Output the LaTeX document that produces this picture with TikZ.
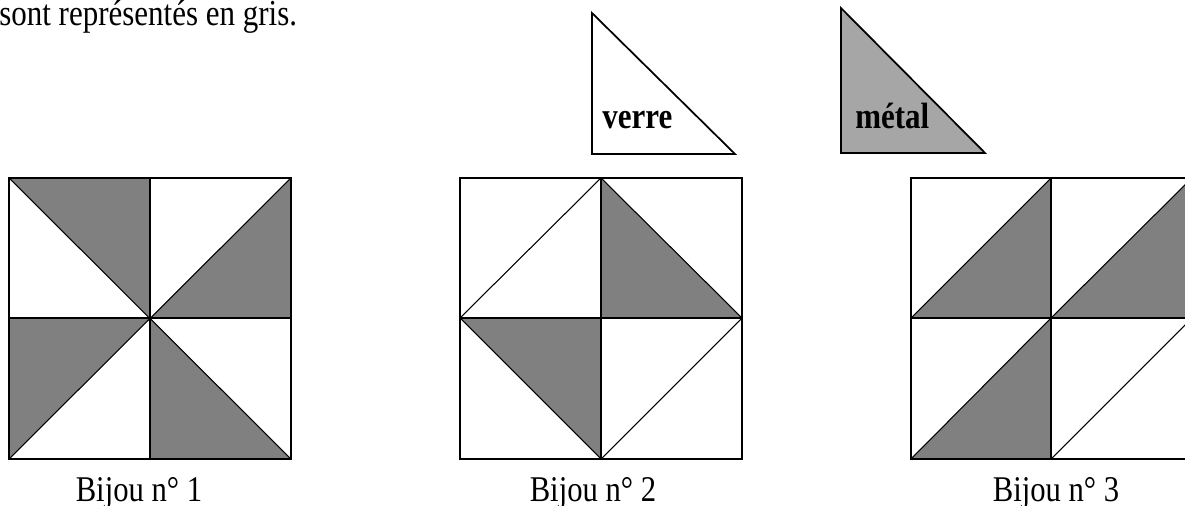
\documentclass[tikz,border=0pt]{standalone}
\usepackage{fontspec}
\setmainfont{Liberation Serif}
\definecolor{sqgray}{RGB}{128,128,128}
\definecolor{metalgray}{RGB}{166,166,166}
\newcommand{\tallt}[1]{\scalebox{1}[1.18]{#1}}
\begin{document}
\begin{tikzpicture}[x=0.75pt,y=-0.75pt,
  txt/.style={inner sep=0pt,anchor=base west,font=\fontsize{23.25}{28}\selectfont},
  lbl/.style={inner sep=0pt,anchor=base,font=\fontsize{23}{28}\selectfont},
  boldtxt/.style={inner sep=0pt,anchor=base west,font=\fontsize{23.25}{28}\selectfont\bfseries},
  grid/.style={draw=black,line width=1.5pt},
  diag/.style={draw=black,line width=0.8pt},
  tri/.style={draw=black,line width=1.3pt,line join=miter},
  shade/.style={fill=sqgray}]
\useasboundingbox (0,0) rectangle (1185,506);
\clip (0,0) rectangle (1185,506);
\fill[white] (0,0) rectangle (1185,506);

\node[txt] (intro) at (-1,26) {\tallt{sont représentés en gris.}};

% legend triangles
\draw[tri,fill=white] (592,13) -- (592,154) -- (735,154) -- cycle;
\node[boldtxt] (verre) at (602,129) {\tallt{verre}};
\draw[tri,fill=metalgray] (841,8) -- (841,153) -- (985,153) -- cycle;
\node[boldtxt] (metal) at (855,129) {\tallt{métal}};

% Bijou 1
\begin{scope}
\fill[shade] (9,178) -- (150,178) -- (150,318) -- cycle;
\fill[shade] (150,318) -- (291,318) -- (291,178) -- cycle;
\fill[shade] (9,318) -- (150,318) -- (9,459) -- cycle;
\fill[shade] (150,318) -- (150,459) -- (291,459) -- cycle;
\draw[diag] (9,178) -- (291,459);
\draw[diag] (9,459) -- (291,178);
\draw[grid] (9,178) rectangle (291,459);
\draw[grid] (150,178) -- (150,459) (9,318) -- (291,318);
\end{scope}
\node[lbl] (b1) at (139,501) {\tallt{Bijou n° 1}};

% Bijou 2
\begin{scope}
\fill[shade] (601,178) -- (601,318) -- (742,318) -- cycle;
\fill[shade] (460,318) -- (601,318) -- (601,459) -- cycle;
\draw[diag] (460,318) -- (601,178) -- (742,318) -- (601,459) -- cycle;
\draw[grid] (460,178) rectangle (742,459);
\draw[grid] (601,178) -- (601,459) (460,318) -- (742,318);
\end{scope}
\node[lbl] (b2) at (593,501) {\tallt{Bijou n° 2}};

% Bijou 3
\begin{scope}
\fill[shade] (911,318) -- (1051,318) -- (1051,178) -- cycle;
\fill[shade] (1051,318) -- (1192,318) -- (1192,178) -- cycle;
\fill[shade] (911,459) -- (1051,459) -- (1051,318) -- cycle;
\draw[diag] (911,318) -- (1051,178) (1051,318) -- (1192,178)
  (911,459) -- (1051,318) (1051,459) -- (1192,318);
\draw[grid] (911,178) rectangle (1192,459);
\draw[grid] (1051,178) -- (1051,459) (911,318) -- (1192,318);
\end{scope}
\node[lbl] (b3) at (1056,501) {\tallt{Bijou n° 3}};
\end{tikzpicture}
\end{document}
